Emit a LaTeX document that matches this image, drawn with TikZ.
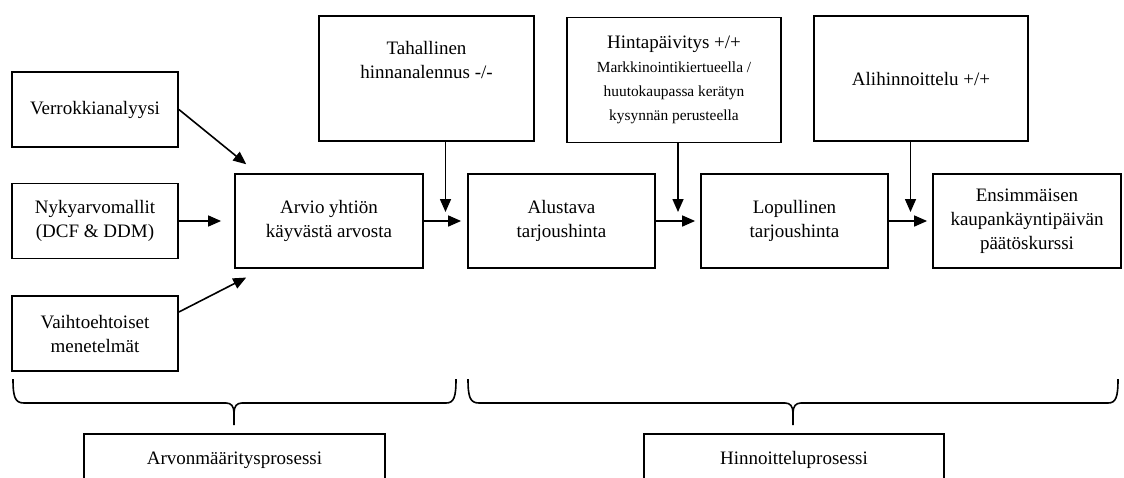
\documentclass[tikz,border=0pt]{standalone}
\usepackage{fontspec}
\setmainfont{Liberation Serif}
\usetikzlibrary{arrows.meta,calc}
\newcommand{\smallfnt}{\fontsize{15.4}{19}\selectfont}

\begin{document}
\begin{tikzpicture}[x=1pt,y=-1pt,line width=1.8pt,
	box/.style={draw, rectangle, align=center, inner sep=0pt, font=\fontsize{19}{24}\selectfont},
	arr/.style={line width=1.6pt, -{Triangle[length=13pt,width=11pt]}},
	brace/.style={line width=1.6pt}]
	\clip (0,0) rectangle (1124,477);
	% valuation inputs
	\node (verr) at (95,109.5)	[box, minimum width=166pt, minimum height=75pt]	{Verrokkianalyysi};
	\node (nyky) at (95,221)	[box, minimum width=166pt, minimum height=75pt]	{Nykyarvomallit\\(DCF \& DDM)};
	\node (vaih) at (95,333.5)	[box, minimum width=166pt, minimum height=75pt]	{Vaihtoehtoiset\\menetelmät};
	% main row
	\node (arvio) at (329,221)	[box, minimum width=188pt, minimum height=94pt]	{Arvio yhtiön\\käyvästä arvosta};
	\node (alus) at (561.5,221)	[box, minimum width=187pt, minimum height=94pt]	{Alustava\\tarjoushinta};
	\node (lopu) at (794.5,221)	[box, minimum width=187pt, minimum height=94pt]	{Lopullinen\\tarjoushinta};
	\node (ensi) at (1027,221)	[box, minimum width=188pt, minimum height=94pt]	{Ensimmäisen\\kaupankäyntipäivän\\päätöskurssi};
	% price adjustments
	\node (tah) at (426.5,78.5)	[box, minimum width=215pt, minimum height=125pt]	{};
	\node (tahtxt) at (426.5,60)	[align=center, font=\fontsize{19}{24}\selectfont]	{Tahallinen\\hinnanalennus -/-};
	\node (hint) at (674,80)	[box, minimum width=214pt, minimum height=125pt]	{Hintapäivitys +/+\\\smallfnt Markkinointikiertueella /\\\smallfnt huutokaupassa kerätyn\\\smallfnt kysynnän perusteella};
	\node (alih) at (921,78.5)	[box, minimum width=214pt, minimum height=125pt]	{Alihinnoittelu +/+};
	% process labels
	\node (arvproc) at (234.5,460)	[box, minimum width=301pt, minimum height=52pt]	{Arvonmääritysprosessi};
	\node (hinproc) at (794,460)	[box, minimum width=300pt, minimum height=52pt]	{Hinnoitteluprosessi};
	\coordinate (g1) at ($(arvio.east)!0.5!(alus.west)$);
	\coordinate (g2) at ($(alus.east)!0.5!(lopu.west)$);
	\coordinate (g3) at ($(lopu.east)!0.5!(ensi.west)$);
	\draw[arr, shorten >=14pt] (verr.east) -- ($(arvio.north west)+(23,0)$);
	\draw[arr, shorten >=13pt] (nyky.east) -- (arvio.west);
	\draw[arr, shorten >=19pt] ([yshift=21.5pt]vaih.east) -- ($(arvio.south west)+(29,0)$);
	\draw[arr, shorten >=6pt] (arvio.east) -- (alus.west);
	\draw[arr, shorten >=5pt] (alus.east) -- (lopu.west);
	\draw[arr, shorten >=5pt] (lopu.east) -- (ensi.west);
	\draw[arr, shorten >=9pt] (tah.south -| g1) -- (g1);
	\draw[arr, shorten >=9pt] (hint.south -| g2) -- (g2);
	\draw[arr, shorten >=9pt] (alih.south -| g3) -- (g3);
	% braces
	\draw[brace] (13,379) .. controls (13,397) and (15,403) .. (24,403) -- (226,403) .. controls (231,403) and (234,406) .. (234,413) -- (234,425)
		(234,413) .. controls (234,406) and (237,403) .. (242,403) -- (446,403) .. controls (454,403) and (456,397) .. (456,379);
	\draw[brace] (468,379) .. controls (468,397) and (470,403) .. (479,403) -- (785,403) .. controls (790,403) and (793,406) .. (793,413) -- (793,425)
		(793,413) .. controls (793,406) and (796,403) .. (801,403) -- (1108,403) .. controls (1116,403) and (1118,397) .. (1118,379);
\end{tikzpicture}
\end{document}
